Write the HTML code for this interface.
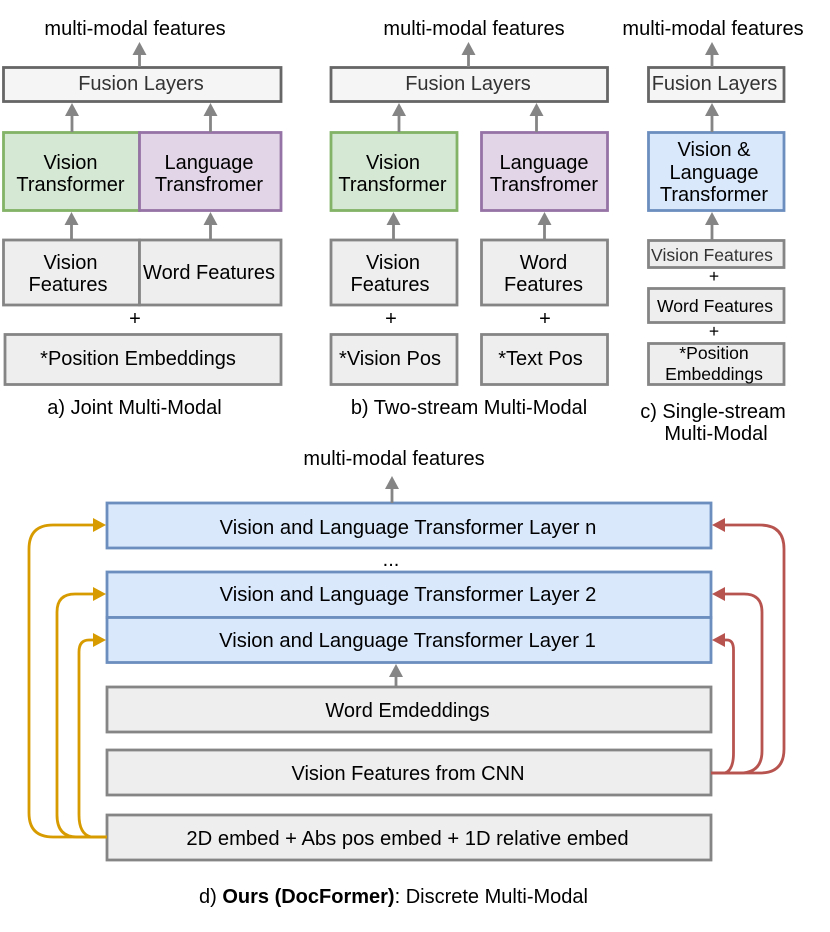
<!DOCTYPE html>
<html><head><meta charset="utf-8"><style>
html,body{margin:0;padding:0;background:#fff}
svg{display:block}
text{font-family:"Liberation Sans",Arial,sans-serif;font-size:20px;text-anchor:middle;fill:#000}
.b{stroke-width:2.8}
.g{fill:#eee;stroke:#858585}
.f{fill:#f5f5f5;stroke:#666}
.gr{fill:#d5e8d4;stroke:#82b366}
.p{fill:#e1d5e7;stroke:#9673a6}
.bl{fill:#dae8fc;stroke:#6c8ebf}
.c{fill:none;stroke:#858585;stroke-width:2.8}
.y{fill:none;stroke:#d79b00;stroke-width:2.8}
.r{fill:none;stroke:#b85450;stroke-width:2.8}
.s{font-size:17.6px}
.w{font-size:20.2px}
</style></head><body>
<svg width="830" height="932" viewBox="0 0 830 932" xmlns="http://www.w3.org/2000/svg">
<!-- a -->
<g class="b">
<rect class="f" x="3.500" y="67.500" width="277.500" height="34"/>
<rect class="gr" x="3.500" y="132.500" width="136" height="78"/>
<rect class="p" x="139.500" y="132.500" width="141.500" height="78"/>
<rect class="g" x="3.500" y="240" width="136" height="65"/>
<rect class="g" x="139.500" y="240" width="141.500" height="65"/>
<rect class="g" x="5" y="334.500" width="276" height="50"/>
<!-- b -->
<rect class="f" x="331" y="67.500" width="276.500" height="34"/>
<rect class="gr" x="331" y="132.500" width="126" height="78"/>
<rect class="p" x="481.500" y="132.500" width="126" height="78"/>
<rect class="g" x="331" y="240" width="126" height="65"/>
<rect class="g" x="481.500" y="240" width="126" height="65"/>
<rect class="g" x="331" y="334.500" width="126" height="50"/>
<rect class="g" x="481.500" y="334.500" width="126" height="50"/>
<!-- c -->
<rect class="f" x="648.500" y="67.500" width="135.500" height="34"/>
<rect class="bl" x="648.500" y="132.500" width="135.500" height="78"/>
<rect class="g" x="648.500" y="240.500" width="135.500" height="27"/>
<rect class="g" x="648.500" y="288.500" width="135.500" height="34"/>
<rect class="g" x="648.500" y="343.500" width="135.500" height="41"/>
<!-- d -->
<rect class="bl" x="107" y="503" width="604" height="45"/>
<rect class="bl" x="107" y="572" width="604" height="45.500"/>
<rect class="bl" x="107" y="617.500" width="604" height="45"/>
<rect class="g" x="107" y="687" width="604" height="45"/>
<rect class="g" x="107" y="750" width="604" height="45"/>
<rect class="g" x="107" y="815" width="604" height="45"/>
</g>
<!-- gray arrows -->
<g class="c">
<path d="M139.500 67V54"/><path d="M72 132V114"/><path d="M210.500 132V114"/><path d="M71.500 240V224"/><path d="M210.500 240V224"/>
<path d="M468.500 67V54"/><path d="M399 132V114"/><path d="M536.500 132V114"/><path d="M393.500 240V224"/><path d="M544.500 240V224"/>
<path d="M712 67V54"/><path d="M712 132V114"/><path d="M712 240V224"/>
<path d="M392 503V488"/><path d="M396 687V676"/>
</g>
<g fill="#858585">
<path d="M132.500 55L139.500 42L146.500 55Z"/><path d="M65 116L72 103L79 116Z"/><path d="M203.500 116L210.500 103L217.500 116Z"/><path d="M64.500 225L71.500 212L78.500 225Z"/><path d="M203.500 225L210.500 212L217.500 225Z"/>
<path d="M461.500 55L468.500 42L475.500 55Z"/><path d="M392 116L399 103L406 116Z"/><path d="M529.500 116L536.500 103L543.500 116Z"/><path d="M386.500 225L393.500 212L400.500 225Z"/><path d="M537.500 225L544.500 212L551.500 225Z"/>
<path d="M705 55L712 42L719 55Z"/><path d="M705 116L712 103L719 116Z"/><path d="M705 225L712 212L719 225Z"/>
<path d="M385 489L392 476L399 489Z"/><path d="M389 677L396 664L403 677Z"/>
</g>
<!-- yellow -->
<g class="y">
<path d="M107 837H53Q29 837 29 813V549Q29 525 53 525H95"/>
<path d="M107 837H77Q57 837 57 815V612Q57 594 75 594H95"/>
<path d="M107 837H91Q79 834 79 815V652Q79 640 89 640H95"/>
</g>
<g fill="#d79b00">
<path d="M106 525L93 518L93 532Z"/><path d="M106 594L93 587L93 601Z"/><path d="M106 640L93 633L93 647Z"/>
</g>
<!-- red -->
<g class="r">
<path d="M711 773H760Q784 773 784 749V549Q784 525 760 525H724"/>
<path d="M711 773H740Q762 773 762 751V612Q762 594 744 594H724"/>
<path d="M711 773H725Q733.500 770 733.500 753V650Q733.500 640 727 640H724"/>
</g>
<g fill="#b85450">
<path d="M712 525L725 518L725 532Z"/><path d="M712 594L725 587L725 601Z"/><path d="M712 640L725 633L725 647Z"/>
</g>
<!-- text a -->
<text x="135" y="35">multi-modal features</text>
<text x="141" y="90" style="fill:#333">Fusion Layers</text>
<text x="70.500" y="169">Vision</text><text x="70.500" y="191">Transformer</text>
<text x="209" y="169">Language</text><text x="209" y="191">Transfromer</text>
<text x="70.500" y="269">Vision</text><text x="68" y="291">Features</text>
<text x="209" y="279">Word Features</text>
<text x="135" y="325">+</text>
<text x="138" y="365">*Position Embeddings</text>
<text x="134.500" y="414">a) Joint Multi-Modal</text>
<!-- text b -->
<text x="474" y="35">multi-modal features</text>
<text x="468" y="90" style="fill:#333">Fusion Layers</text>
<text x="393" y="169">Vision</text><text x="392.500" y="191">Transformer</text>
<text x="544" y="169">Language</text><text x="544" y="191">Transfromer</text>
<text x="393" y="269">Vision</text><text x="390" y="291">Features</text>
<text x="543.500" y="269">Word</text><text x="543.500" y="291">Features</text>
<text x="391" y="325">+</text><text x="545" y="325">+</text>
<text x="390" y="365">*Vision Pos</text>
<text x="540.500" y="365">*Text Pos</text>
<text x="469" y="414">b) Two-stream Multi-Modal</text>
<!-- text c -->
<text x="713" y="35">multi-modal features</text>
<text x="714.500" y="90" style="fill:#333">Fusion Layers</text>
<text x="714" y="156">Vision &amp;</text><text x="714" y="179">Language</text><text x="714" y="201">Transformer</text>
<text x="712" y="261" class="s" style="fill:#333">Vision Features</text>
<text x="714" y="282" class="s">+</text>
<text x="715" y="312" class="s">Word Features</text>
<text x="714" y="337" class="s">+</text>
<text x="714" y="359" class="s">*Position</text><text x="714" y="380" class="s">Embeddings</text>
<text x="713" y="418">c) Single-stream</text><text x="716" y="440">Multi-Modal</text>
<!-- text d -->
<text x="394" y="465">multi-modal features</text>
<text x="408" y="534" class="w">Vision and Language Transformer Layer n</text>
<text x="391" y="566">...</text>
<text x="408" y="601" class="w">Vision and Language Transformer Layer 2</text>
<text x="407.500" y="647" class="w">Vision and Language Transformer Layer 1</text>
<text x="407.500" y="717">Word Emdeddings</text>
<text x="408" y="780">Vision Features from CNN</text>
<text x="407.500" y="845" class="w">2D embed + Abs pos embed + 1D relative embed</text>
<text x="393.500" y="903">d) <tspan font-weight="bold">Ours (DocFormer)</tspan>: Discrete Multi-Modal</text>
</svg>
</body></html>
